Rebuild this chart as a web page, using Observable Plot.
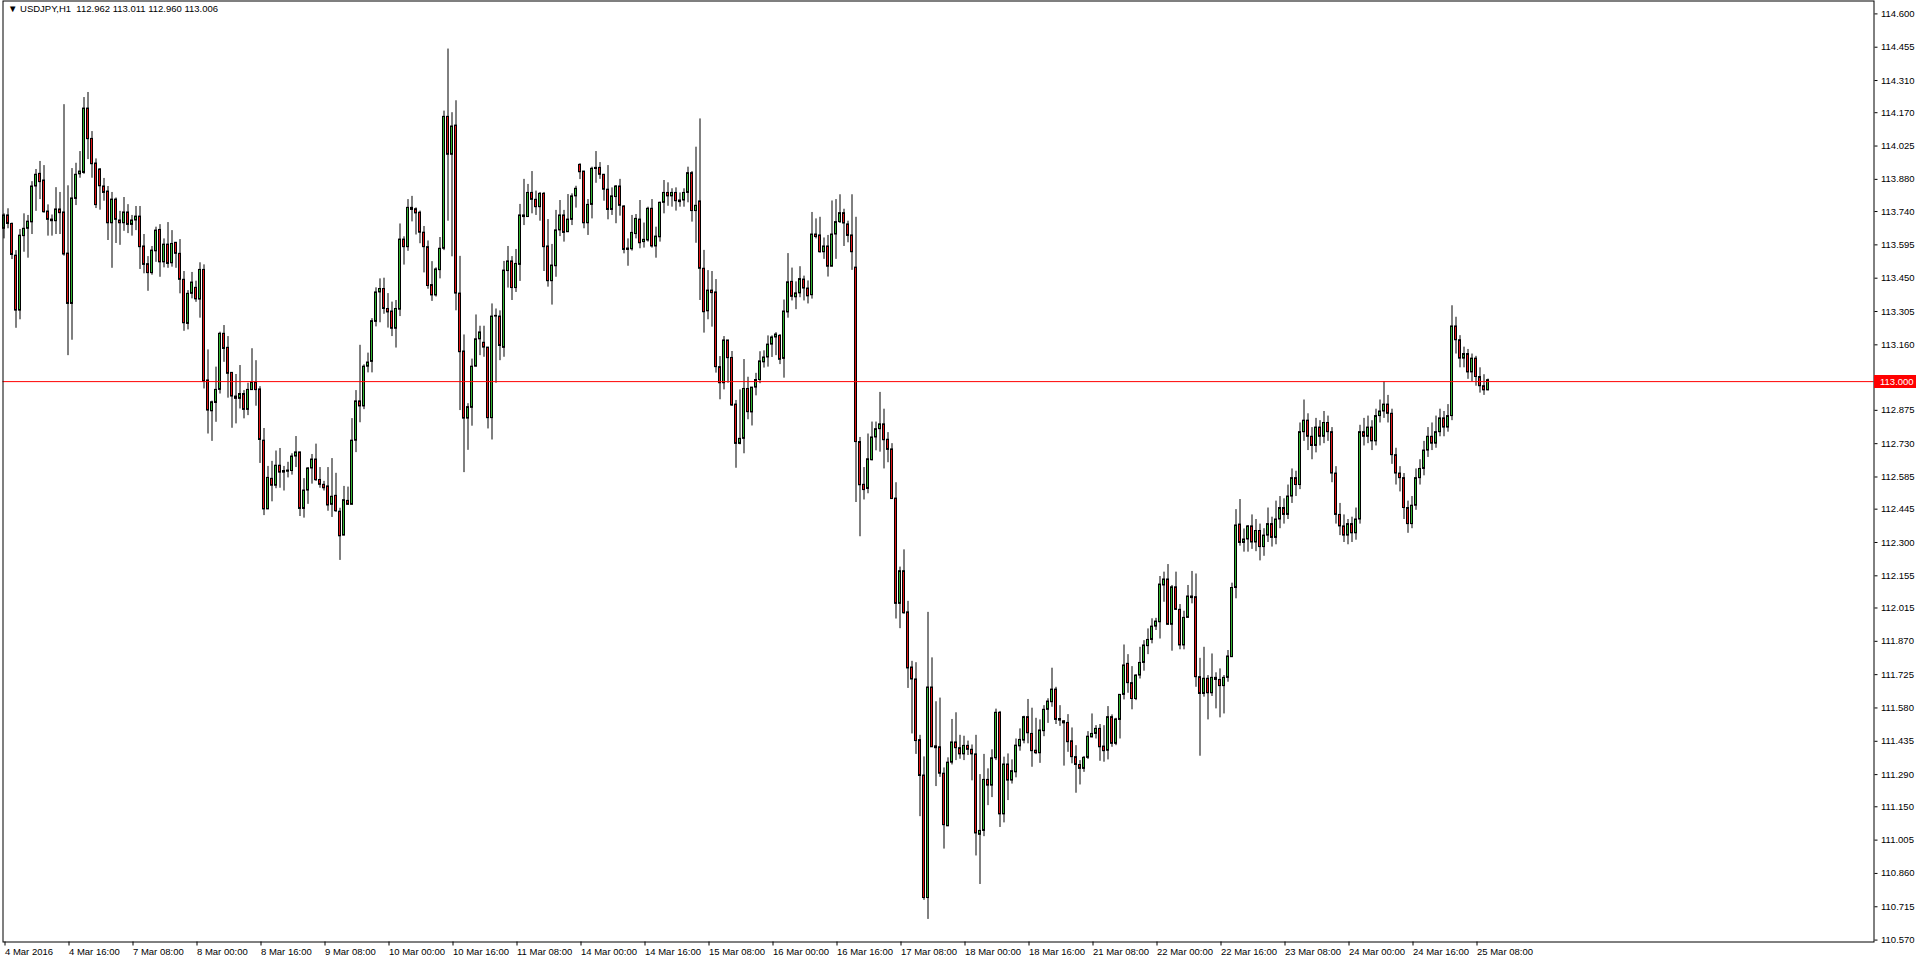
<!DOCTYPE html>
<html><head><meta charset="utf-8">
<script src="https://cdn.jsdelivr.net/npm/d3@7"></script>
<script src="https://cdn.jsdelivr.net/npm/@observablehq/plot@0.6"></script>
<style>
html,body{margin:0;padding:0;background:#fff;overflow:hidden}
#chart{position:relative;width:1916px;height:964px}
svg{display:block}
</style></head><body><div id="chart"></div>
<script>
const symbolTitle = "USDJPY,H1";
const lastQuote = ["112.962", "113.011", "112.960", "113.006"];
const levelPrice = 113.000;

const timeLabels = ["4 Mar 2016","4 Mar 16:00","7 Mar 08:00","8 Mar 00:00","8 Mar 16:00","9 Mar 08:00","10 Mar 00:00","10 Mar 16:00","11 Mar 08:00","14 Mar 00:00","14 Mar 16:00","15 Mar 08:00","16 Mar 00:00","16 Mar 16:00","17 Mar 08:00","18 Mar 00:00","18 Mar 16:00","21 Mar 08:00","22 Mar 00:00","22 Mar 16:00","23 Mar 08:00","24 Mar 00:00","24 Mar 16:00","25 Mar 08:00"];
const timeLabelBars = [0,16,32,48,64,80,96,112,128,144,160,176,192,208,224,240,256,272,288,304,320,336,352,368];

const priceTickLabels = ["110.570","110.715","110.860","111.005","111.150","111.290","111.435","111.580","111.725","111.870","112.015","112.155","112.300","112.445","112.585","112.730","112.875","113.015","113.160","113.305","113.450","113.595","113.740","113.880","114.025","114.170","114.310","114.455","114.600"];

// hourly bars, one row = 16 bars
const opens = [
113.665,113.723,113.686,113.548,113.309,113.633,113.665,113.693,113.849,113.904,113.875,113.740,113.705,113.698,113.749,113.736,
113.557,113.338,113.795,113.902,113.908,114.188,114.056,113.949,113.923,113.849,113.827,113.689,113.792,113.701,113.689,113.736,
113.682,113.701,113.718,113.588,113.511,113.472,113.567,113.660,113.519,113.596,113.515,113.604,113.556,113.443,113.251,113.382,
113.408,113.357,113.486,113.005,112.871,112.907,112.964,113.208,113.147,113.038,112.935,112.925,112.946,112.877,112.963,112.996,
112.966,112.743,112.444,112.577,112.547,112.634,112.611,112.608,112.611,112.674,112.692,112.446,112.526,112.622,112.661,112.572,
112.551,112.544,112.464,112.503,112.434,112.330,112.481,112.464,112.743,112.914,112.892,113.065,113.086,113.260,113.388,113.403,
113.316,113.305,113.230,113.313,113.618,113.585,113.756,113.750,113.735,113.648,113.585,113.420,113.375,113.485,113.578,114.152,
113.987,114.114,113.383,113.131,112.839,112.886,113.065,113.184,113.169,113.148,112.841,113.283,113.283,113.147,113.481,113.523,
113.407,113.508,113.716,113.716,113.821,113.791,113.759,113.817,113.588,113.437,113.502,113.658,113.723,113.650,113.704,113.806,
113.943,113.914,113.689,113.769,113.925,113.930,113.900,113.835,113.747,113.803,113.849,113.762,113.579,113.576,113.642,113.705,
113.607,113.614,113.752,113.588,113.628,113.778,113.821,113.806,113.821,113.788,113.788,113.821,113.907,113.742,113.784,113.491,
113.306,113.396,113.388,113.063,112.993,113.179,113.103,112.900,112.729,112.751,112.968,112.866,112.974,113.007,113.084,113.105,
113.161,113.192,113.199,113.099,113.301,113.434,113.367,113.384,113.444,113.405,113.376,113.640,113.636,113.563,113.588,113.500,
113.640,113.694,113.733,113.684,113.636,113.496,112.737,112.551,112.533,112.658,112.757,112.793,112.814,112.747,112.705,112.491,
112.033,112.175,111.996,111.756,111.704,111.440,111.286,110.753,111.669,111.413,111.409,111.294,111.065,111.342,111.430,111.405,
111.378,111.415,111.398,111.378,111.028,111.045,111.267,111.242,111.361,111.559,111.117,111.334,111.264,111.300,111.413,111.438,
111.540,111.467,111.394,111.383,111.479,111.572,111.605,111.660,111.532,111.522,111.515,111.435,111.366,111.332,111.315,111.363,
111.452,111.467,111.489,111.412,111.394,111.540,111.424,111.528,111.637,111.772,111.688,111.619,111.721,111.776,111.849,111.876,
111.934,111.953,112.113,112.139,111.942,112.105,112.007,111.852,111.972,112.065,112.062,111.714,111.641,111.707,111.644,111.711,
111.702,111.675,111.711,111.801,112.102,112.378,112.298,112.313,112.370,112.300,112.350,112.280,112.330,112.380,112.320,112.400,
112.450,112.420,112.500,112.580,112.550,112.780,112.830,112.760,112.720,112.800,112.760,112.820,112.780,112.600,112.420,112.370,
112.330,112.380,112.340,112.400,112.780,112.760,112.800,112.740,112.850,112.870,112.900,112.860,112.680,112.600,112.580,112.450,
112.380,112.460,112.580,112.620,112.700,112.760,112.730,112.780,112.840,112.800,112.850,113.240,113.180,113.100,113.120,113.040,
113.100,113.020,112.980,112.962];
const highs = [
113.730,113.752,113.690,113.570,113.662,113.730,113.723,113.870,113.923,113.958,113.940,113.769,113.725,113.844,113.823,114.205,
113.852,113.927,113.950,114.001,114.236,114.258,114.088,113.969,113.927,113.884,113.849,113.823,113.799,113.741,113.801,113.770,
113.723,113.762,113.762,113.640,113.544,113.588,113.672,113.683,113.621,113.692,113.657,113.604,113.618,113.479,113.396,113.475,
113.437,113.517,113.508,113.138,112.915,113.063,113.215,113.244,113.196,113.038,113.031,113.070,112.961,112.993,113.143,113.091,
112.978,112.796,112.631,112.653,112.698,112.709,112.631,112.649,112.686,112.761,112.692,112.578,112.626,112.683,112.728,112.626,
112.566,112.626,112.665,112.601,112.449,112.544,112.541,112.839,112.961,113.158,113.073,113.124,113.274,113.408,113.447,113.450,
113.383,113.346,113.353,113.686,113.630,113.792,113.806,113.756,113.742,113.675,113.612,113.522,113.495,113.627,114.177,114.447,
114.170,114.222,113.545,113.203,112.904,113.098,113.290,113.241,113.241,113.148,113.338,113.316,113.308,113.523,113.588,113.544,
113.575,113.771,113.880,113.858,113.914,113.829,113.823,113.823,113.705,113.597,113.745,113.788,113.745,113.814,113.817,113.850,
113.948,113.914,113.792,113.933,114.001,113.953,113.900,113.940,113.843,113.853,113.880,113.765,113.621,113.723,113.727,113.788,
113.690,113.759,113.792,113.672,113.781,113.875,113.865,113.839,113.843,113.821,113.839,113.933,113.914,114.020,114.143,113.571,
113.483,113.479,113.444,113.109,113.196,113.179,113.131,112.918,112.964,113.096,113.019,112.974,113.036,113.130,113.134,113.199,
113.199,113.213,113.205,113.355,113.557,113.494,113.434,113.500,113.459,113.438,113.736,113.708,113.715,113.625,113.636,113.786,
113.792,113.813,113.750,113.698,113.813,113.715,112.757,112.626,112.772,112.824,112.824,112.953,112.880,112.778,112.730,112.560,
112.193,112.268,112.044,111.783,111.777,111.461,111.367,111.996,111.798,111.607,111.623,111.319,111.363,111.530,111.559,111.461,
111.457,111.436,111.419,111.461,111.290,111.378,111.315,111.398,111.575,111.565,111.366,111.380,111.354,111.445,111.489,111.544,
111.617,111.579,111.535,111.528,111.590,111.620,111.753,111.670,111.590,111.525,111.551,111.493,111.416,111.351,111.369,111.477,
111.554,111.503,111.508,111.503,111.586,111.550,111.535,111.637,111.854,111.812,111.760,111.725,111.844,111.873,111.924,111.968,
111.970,112.152,112.171,112.204,112.113,112.171,112.030,112.001,112.113,112.174,112.163,111.796,111.844,111.721,111.815,111.733,
111.750,111.721,111.830,112.123,112.443,112.487,112.359,112.374,112.420,112.400,112.380,112.360,112.450,112.410,112.480,112.500,
112.490,112.550,112.620,112.610,112.820,112.920,112.860,112.800,112.840,112.830,112.870,112.850,112.800,112.630,112.470,112.420,
112.400,112.410,112.450,112.810,112.840,112.850,112.830,112.880,112.920,113.000,112.940,112.880,112.710,112.630,112.600,112.480,
112.500,112.620,112.660,112.740,112.800,112.820,112.850,112.880,112.870,112.900,113.330,113.280,113.200,113.150,113.140,113.120,
113.110,113.060,113.030,113.011];
const lows = [
113.621,113.665,113.531,113.232,113.269,113.563,113.537,113.640,113.741,113.792,113.733,113.633,113.633,113.640,113.640,113.546,
113.113,113.180,113.766,113.885,113.902,113.966,113.885,113.753,113.746,113.785,113.614,113.493,113.601,113.593,113.654,113.644,
113.633,113.657,113.488,113.469,113.393,113.463,113.519,113.454,113.495,113.493,113.498,113.493,113.382,113.219,113.225,113.360,
113.345,113.276,112.968,112.772,112.740,112.823,112.946,113.084,112.928,112.797,112.816,112.881,112.838,112.852,112.963,112.893,
112.644,112.417,112.444,112.477,112.534,112.536,112.524,112.581,112.593,112.626,112.413,112.406,112.466,112.554,112.566,112.536,
112.524,112.436,112.409,112.431,112.222,112.330,112.461,112.464,112.691,112.821,112.878,113.038,113.038,113.238,113.256,113.293,
113.233,113.196,113.146,113.283,113.507,113.567,113.695,113.638,113.600,113.473,113.402,113.349,113.368,113.447,113.570,113.698,
113.543,113.308,112.874,112.604,112.701,112.806,113.064,113.113,113.106,112.794,112.746,112.993,113.091,113.106,113.407,113.353,
113.388,113.436,113.679,113.716,113.730,113.723,113.698,113.479,113.411,113.333,113.454,113.631,113.607,113.650,113.679,113.755,
113.879,113.665,113.636,113.708,113.863,113.880,113.785,113.704,113.723,113.687,113.720,113.556,113.502,113.568,113.621,113.578,
113.581,113.607,113.581,113.537,113.607,113.730,113.763,113.759,113.742,113.759,113.759,113.778,113.694,113.602,113.353,113.211,
113.269,113.237,113.037,112.921,112.964,112.993,112.892,112.623,112.725,112.686,112.834,112.807,112.938,112.991,113.059,113.063,
113.105,113.113,113.074,113.015,113.276,113.351,113.313,113.365,113.351,113.338,113.359,113.621,113.559,113.532,113.455,113.500,
113.532,113.688,113.588,113.604,113.484,112.474,112.325,112.485,112.512,112.655,112.699,112.693,112.620,112.647,112.489,111.967,
111.925,111.988,111.665,111.467,111.378,111.107,110.743,110.660,111.409,111.238,111.278,110.966,111.065,111.332,111.351,111.357,
111.351,111.373,111.263,110.936,110.812,111.020,111.155,111.190,111.351,111.060,111.080,111.177,111.249,111.276,111.392,111.424,
111.424,111.322,111.377,111.339,111.455,111.513,111.583,111.508,111.500,111.327,111.387,111.337,111.209,111.245,111.300,111.356,
111.450,111.445,111.348,111.344,111.354,111.409,111.416,111.445,111.615,111.644,111.572,111.612,111.706,111.740,111.812,111.859,
111.917,111.880,112.040,111.939,111.827,112.004,111.833,111.833,111.972,112.033,111.670,111.370,111.627,111.528,111.630,111.576,
111.537,111.554,111.692,111.801,112.055,112.284,112.258,112.258,112.270,112.260,112.220,112.240,112.300,112.280,112.290,112.360,
112.380,112.400,112.470,112.500,112.530,112.740,112.700,112.660,112.690,112.720,112.730,112.740,112.560,112.380,112.330,112.300,
112.290,112.300,112.310,112.380,112.720,112.730,112.700,112.720,112.820,112.840,112.820,112.640,112.550,112.520,112.400,112.340,
112.360,112.440,112.550,112.590,112.670,112.700,112.710,112.760,112.760,112.780,112.830,113.120,113.060,113.060,113.010,113.000,
112.980,112.950,112.940,112.960];
const closes = [
113.723,113.686,113.551,113.309,113.635,113.665,113.696,113.849,113.900,113.868,113.737,113.704,113.698,113.749,113.733,113.553,
113.338,113.797,113.900,113.914,114.188,114.055,113.946,113.768,113.850,113.821,113.689,113.792,113.704,113.689,113.736,113.682,
113.701,113.718,113.585,113.508,113.472,113.570,113.657,113.519,113.596,113.512,113.599,113.556,113.443,113.254,113.382,113.431,
113.358,113.486,113.000,112.874,112.910,112.964,113.208,113.142,113.034,112.935,112.925,112.946,112.877,112.964,112.996,112.963,
112.746,112.444,112.581,112.547,112.634,112.604,112.604,112.613,112.674,112.692,112.446,112.526,112.622,112.661,112.571,112.551,
112.536,112.461,112.499,112.436,112.327,112.484,112.464,112.743,112.914,112.892,113.065,113.083,113.263,113.388,113.403,113.316,
113.301,113.230,113.316,113.618,113.585,113.756,113.747,113.732,113.648,113.585,113.416,113.375,113.488,113.578,114.152,113.987,
114.110,113.383,113.128,112.839,112.889,113.065,113.184,113.214,113.148,112.841,113.283,113.286,113.155,113.483,113.523,113.407,
113.512,113.723,113.723,113.821,113.791,113.759,113.817,113.585,113.437,113.505,113.658,113.723,113.647,113.705,113.806,113.839,
113.911,113.689,113.769,113.926,113.930,113.900,113.835,113.747,113.806,113.849,113.765,113.573,113.573,113.647,113.708,113.602,
113.617,113.752,113.588,113.631,113.778,113.821,113.806,113.821,113.785,113.781,113.821,113.907,113.742,113.765,113.491,113.302,
113.396,113.385,113.063,112.993,113.179,113.102,112.896,112.729,112.751,112.968,112.867,112.974,113.007,113.088,113.105,113.161,
113.192,113.205,113.095,113.305,113.432,113.369,113.384,113.446,113.405,113.371,113.640,113.629,113.563,113.588,113.500,113.640,
113.694,113.733,113.688,113.634,113.563,112.737,112.549,112.528,112.662,112.757,112.793,112.814,112.745,112.703,112.489,112.033,
112.175,111.992,111.752,111.704,111.436,111.284,110.753,111.669,111.409,111.405,111.294,111.070,111.342,111.430,111.405,111.378,
111.415,111.398,111.378,111.034,111.045,111.267,111.242,111.361,111.559,111.117,111.334,111.264,111.305,111.416,111.441,111.540,
111.470,111.392,111.383,111.482,111.572,111.608,111.660,111.528,111.525,111.513,111.431,111.366,111.332,111.315,111.363,111.455,
111.467,111.489,111.409,111.392,111.540,111.424,111.530,111.637,111.765,111.688,111.619,111.721,111.776,111.852,111.876,111.934,
111.956,112.117,112.139,111.942,112.105,112.007,111.852,111.972,112.065,112.058,111.714,111.641,111.707,111.644,111.711,111.702,
111.675,111.711,111.804,112.102,112.374,112.298,112.313,112.370,112.300,112.350,112.280,112.330,112.380,112.320,112.400,112.450,
112.420,112.500,112.580,112.550,112.780,112.830,112.760,112.720,112.800,112.760,112.820,112.780,112.600,112.420,112.370,112.330,
112.380,112.340,112.400,112.780,112.760,112.800,112.740,112.850,112.870,112.900,112.860,112.680,112.600,112.580,112.450,112.380,
112.460,112.580,112.620,112.700,112.760,112.730,112.780,112.840,112.800,112.850,113.240,113.180,113.100,113.120,113.040,113.100,
113.020,112.980,112.962,113.006];

const bullColor = "#32b432";
const bearColor = "#e01515";

const bars = opens.map((o, i) => ({i, o, h: highs[i], l: lows[i], c: closes[i]}));
const timeLabelOf = new Map(timeLabelBars.map((b, k) => [b, timeLabels[k]]));
const titleText = "\u25BC " + symbolTitle + "\u00a0\u00a0" + lastQuote.join(" ");

const plot = Plot.plot({
  width: 1916,
  height: 964,
  marginLeft: 2.5,
  marginRight: 42.5,
  marginTop: 0.5,
  marginBottom: 22.5,
  x: {type: "linear", domain: [-0.25, 467.5], axis: null, label: null},
  y: {type: "linear", domain: [110.5617, 114.6561], axis: null, label: null},
  style: {fontFamily: "'Liberation Sans', Arial, sans-serif", fontSize: "9.5px", color: "#000", background: "#fff"},
  marks: [
    Plot.ruleX(bars, {x: "i", y1: "l", y2: "h", stroke: "#000", strokeWidth: 1}),
    Plot.rect(bars, {x1: d => d.i - 0.25, x2: d => d.i + 0.25, y1: "o", y2: "c",
      fill: d => d.c >= d.o ? bullColor : bearColor, stroke: "#000", strokeWidth: 1}),
    Plot.ruleY([levelPrice], {stroke: "#ff0000", strokeWidth: 1}),
    Plot.frame({stroke: "#000", strokeWidth: 1}),
    Plot.axisY({anchor: "right", label: null, ticks: priceTickLabels.map(Number), tickFormat: d => d.toFixed(3),
      tickSize: 3, tickPadding: 4, textAnchor: "start", stroke: "#000", fill: "#000"}),
    Plot.axisX({anchor: "bottom", label: null, ticks: timeLabelBars, tickFormat: d => timeLabelOf.get(d),
      tickSize: 4, tickPadding: 2, textAnchor: "start", dx: 1, stroke: "#000", fill: "#000"}),
    Plot.text([titleText], {frameAnchor: "top-left", dx: 5, dy: 4, lineAnchor: "top", textAnchor: "start",
      fill: "#000", fontSize: 9.5})
  ]
});

// price tag for the horizontal level, drawn on the right price scale
const sy = plot.scale("y");
const yy = sy.apply(levelPrice);
const tag = d3.select(plot).append("g");
tag.append("rect").attr("x", 1874).attr("y", Math.round(yy) - 6).attr("width", 42).attr("height", 13).attr("fill", "#ff0000");
tag.append("text").attr("x", 1880).attr("y", Math.round(yy) + 0.5).attr("dy", "0.35em")
  .attr("text-anchor", "start").attr("fill", "#fff").attr("font-size", "9.5px").text(levelPrice.toFixed(3));

document.getElementById("chart").appendChild(plot);
</script>
</body></html>
